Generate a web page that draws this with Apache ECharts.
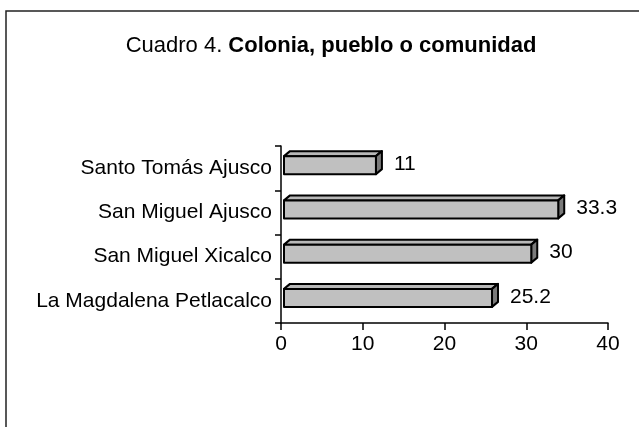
<!DOCTYPE html>
<html>
<head>
<meta charset="utf-8">
<script src="https://cdn.jsdelivr.net/npm/echarts@6/dist/echarts.min.js"></script>
<style>
html,body{margin:0;padding:0;background:#fff;}
#chart{width:639px;height:427px;}
</style>
</head>
<body>
<div id="chart"></div>
<script>
const categories = ['La Magdalena Petlacalco', 'San Miguel Xicalco', 'San Miguel Ajusco', 'Santo Tomás Ajusco'];
const values = [25.2, 30, 33.3, 11];
const xTicks = [0, 10, 20, 30, 40];

const FONT = '"Liberation Sans", Arial, sans-serif';
const chart = echarts.init(document.getElementById('chart'), null, {renderer: 'canvas'});

function renderBar(params, api) {
  const idx = api.value(0);
  const v = api.value(1);
  const p0 = api.coord([0, idx]);
  const p1 = api.coord([v, idx]);
  const dx = 6, dy = 5;
  const x0 = p0[0] + 3;
  const x1 = p1[0] + 5;
  const yTop = p0[1] - 12;
  const h = 18;
  const stroke = {stroke: '#000', lineWidth: 2, lineJoin: 'round'};
  return {
    type: 'group',
    children: [
      {type: 'polygon', shape: {points: [[x0, yTop], [x0 + dx, yTop - dy], [x1 + dx, yTop - dy], [x1, yTop]]},
       style: Object.assign({fill: '#b8b8b8'}, stroke)},
      {type: 'polygon', shape: {points: [[x1, yTop], [x1 + dx, yTop - dy], [x1 + dx, yTop + h - dy], [x1, yTop + h]]},
       style: Object.assign({fill: '#7a7a7a'}, stroke)},
      {type: 'rect', shape: {x: x0, y: yTop, width: x1 - x0, height: h},
       style: Object.assign({fill: '#c0c0c0'}, stroke)},
      {type: 'text', x: x1 + dx + 12, y: yTop + h / 2 - 1,
       style: {text: String(v), font: '21px ' + FONT, fill: '#000', textVerticalAlign: 'middle'}}
    ]
  };
}

chart.setOption({
  animation: false,
  backgroundColor: '#fff',
  title: {
    text: '{n|Cuadro 4. }{b|Colonia, pueblo o comunidad}',
    left: 326, top: 30, textAlign: 'center',
    textStyle: {
      rich: {
        n: {fontFamily: FONT, fontSize: 22, fontWeight: 'normal', color: '#000'},
        b: {fontFamily: FONT, fontSize: 22, fontWeight: 'bold', color: '#000'}
      }
    }
  },
  graphic: [{
    type: 'rect', shape: {x: 6, y: 11, width: 700, height: 500},
    style: {fill: 'none', stroke: '#222', lineWidth: 1.5}
  }],
  grid: {left: 281, right: 31, top: 146, bottom: 104, containLabel: false},
  xAxis: {
    type: 'value', min: 0, max: 40, interval: 10,
    axisLine: {show: true, lineStyle: {color: '#000', width: 1.5}},
    axisTick: {show: true, length: 7, lineStyle: {color: '#000', width: 1.5}},
    splitLine: {show: false},
    axisLabel: {fontFamily: FONT, fontSize: 21, color: '#000', margin: 11,
      formatter: function (v) { return xTicks.indexOf(v) >= 0 ? String(v) : ''; }}
  },
  yAxis: {
    type: 'category', data: categories,
    axisLine: {show: true, lineStyle: {color: '#000', width: 1.5}},
    axisTick: {show: true, length: 6, inside: false, lineStyle: {color: '#000', width: 1.5}},
    axisLabel: {fontFamily: FONT, fontSize: 21, color: '#000', margin: 9}
  },
  series: [{
    type: 'custom',
    renderItem: renderBar,
    data: values.map(function (v, i) { return [i, v]; }),
    encode: {x: 1, y: 0}
  }]
});
</script>
</body>
</html>
